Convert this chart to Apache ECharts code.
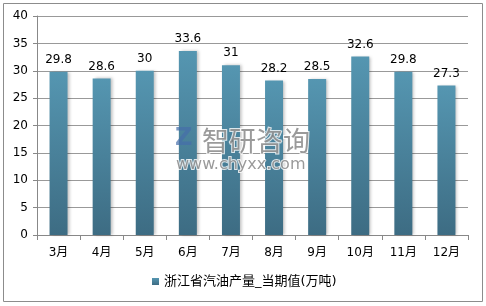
<!DOCTYPE html>
<html>
<head>
<meta charset="utf-8">
<script src="https://cdn.jsdelivr.net/npm/echarts@6/dist/echarts.min.js"></script>
<style>
  html, body { margin: 0; padding: 0; background: #fff; }
  #chart { width: 486px; height: 306px; }
</style>
</head>
<body>
<div id="chart"></div>
<script>
// 数据
var months = ['3月', '4月', '5月', '6月', '7月', '8月', '9月', '10月', '11月', '12月'];
var values = [29.8, 28.6, 30, 33.6, 31, 28.2, 28.5, 32.6, 29.8, 27.3];
var seriesName = '浙江省汽油产量_当期值(万吨)';

var chart = echarts.init(document.getElementById('chart'));
var font = 'Tahoma, "DejaVu Sans", "Noto Sans CJK SC", sans-serif';

chart.setOption({
  animation: false,
  graphic: [
    {
      type: 'rect',
      shape: { x: 3.5, y: 3.5, width: 479, height: 298 },
      style: { fill: 'none', stroke: '#8c8c8c', lineWidth: 1 }
    },
    // 水印
    {
      type: 'text', left: 201, top: 126, z: 10,
      style: {
        text: '智研咨询', fill: 'rgba(120,120,120,0.75)', font: '27px "Noto Sans CJK SC"',
        stroke: 'rgba(255,255,255,0.8)', lineWidth: 2
      }
    },
    {
      type: 'text', left: 175, top: 156, z: 10,
      style: {
        text: 'www.chyxx.com', fill: 'rgba(120,120,120,0.75)', font: '16px "DejaVu Sans"',
        stroke: 'rgba(255,255,255,0.8)', lineWidth: 2
      }
    },
    {
      type: 'text', left: 175, top: 127, z: 10,
      style: {
        text: 'Z', fill: 'rgba(70,110,170,0.7)', font: 'bold 24px "DejaVu Sans"'
      }
    }
  ],
  grid: { left: 37, right: 18, top: 16, bottom: 71 },
  legend: {
    bottom: 13,
    left: 147,
    itemWidth: 7,
    itemHeight: 7,
    itemGap: 4,
    icon: 'rect',
    textStyle: { fontSize: 13, color: '#000', fontFamily: font },
    data: [seriesName]
  },
  xAxis: {
    type: 'category',
    data: months,
    axisLine: { lineStyle: { color: '#888' } },
    axisTick: { show: true, length: 5, lineStyle: { color: '#888' } },
    axisLabel: { color: '#000', fontSize: 12, margin: 12, fontFamily: font }
  },
  yAxis: {
    type: 'value',
    min: 0, max: 40, interval: 5,
    axisLine: { show: true, lineStyle: { color: '#888' } },
    axisTick: { show: true, length: 4, lineStyle: { color: '#888' } },
    splitLine: { lineStyle: { color: '#999' } },
    axisLabel: { color: '#000', fontSize: 12, margin: 9, fontFamily: font }
  },
  series: [{
    name: seriesName,
    type: 'bar',
    data: values,
    barWidth: 18,
    itemStyle: {
      color: new echarts.graphic.LinearGradient(0, 0, 0, 1, [
        { offset: 0, color: '#5596b1' },
        { offset: 1, color: '#3d6c83' }
      ]),
      shadowColor: 'rgba(0,0,0,0.25)',
      shadowBlur: 3,
      shadowOffsetX: 2
    },
    label: {
      show: true,
      position: 'top',
      distance: 6,
      color: '#000',
      fontSize: 12,
      fontFamily: font
    }
  }]
});
</script>
</body>
</html>
